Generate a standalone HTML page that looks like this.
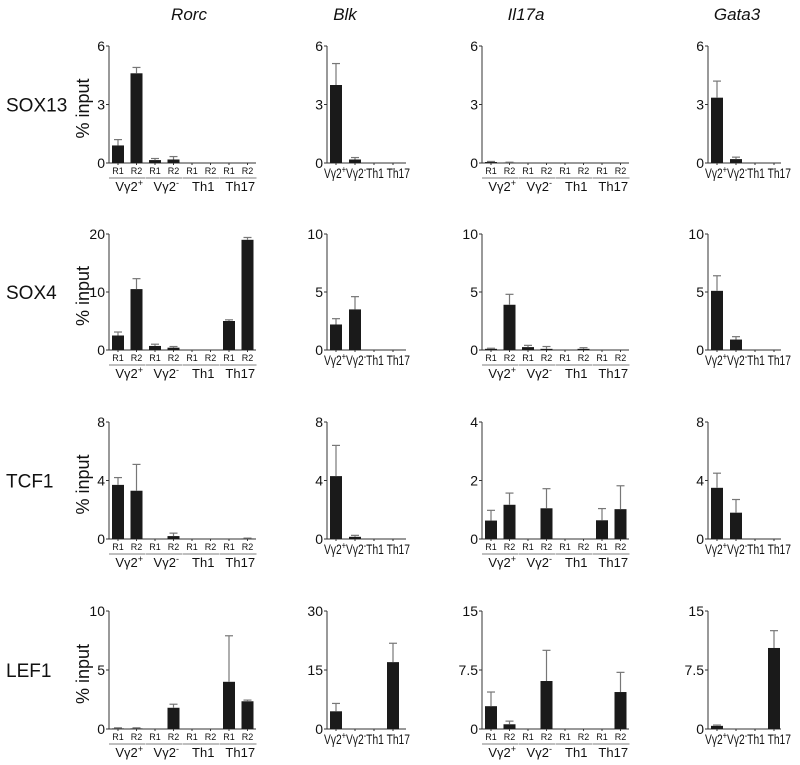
<!DOCTYPE html>
<html><head><meta charset="utf-8">
<style>
body{margin:0;background:#fff;}
svg{display:block;font-family:"Liberation Sans",sans-serif;}
</style></head>
<body>
<svg id="fig" width="800" height="765" viewBox="0 0 800 765"></svg>
<script>
// column genes and row factors
const genes = ["Rorc","Blk","Il17a","Gata3"];
const factors = ["SOX13","SOX4","TCF1","LEF1"];
const groups = ["Vγ2+","Vγ2-","Th1","Th17"];
// y-axis maxima per row/col
const yMax = [[6,6,6,6],[20,10,10,10],[8,8,4,8],[10,30,15,15]];
const yTickLabels = [
 [["0","3","6"],["0","3","6"],["0","3","6"],["0","3","6"]],
 [["0","10","20"],["0","5","10"],["0","5","10"],["0","5","10"]],
 [["0","4","8"],["0","4","8"],["0","2","4"],["0","4","8"]],
 [["0","5","10"],["0","15","30"],["0","7.5","15"],["0","7.5","15"]]
];
// values (means) and errors
const vals = [
 [[0.9,4.6,0.15,0.18,0,0,0,0],[4.0,0.18,0,0],[0.05,0.02,0,0,0,0,0,0],[3.35,0.2,0,0]],
 [[2.5,10.5,0.7,0.4,0,0,5,19],[2.2,3.5,0,0],[0.1,3.9,0.25,0.1,0,0.1,0,0],[5.1,0.9,0,0]],
 [[3.7,3.3,0,0.2,0,0,0,0.03],[4.3,0.15,0,0],[0.63,1.17,0,1.05,0,0,0.64,1.02],[3.5,1.8,0,0]],
 [[0.05,0.05,0,1.8,0,0,4,2.35],[4.5,0,0,17],[2.9,0.6,0,6.1,0,0,0,4.7],[0.4,0,0,10.3]]
];
const errs = [
 [[0.3,0.3,0.08,0.15,0,0,0,0],[1.1,0.1,0,0],[0.03,0.02,0,0,0,0,0,0],[0.85,0.1,0,0]],
 [[0.6,1.8,0.3,0.2,0,0,0.2,0.4],[0.5,1.1,0,0],[0.05,0.9,0.15,0.2,0,0.1,0,0],[1.3,0.25,0,0]],
 [[0.5,1.8,0,0.2,0,0,0,0.03],[2.1,0.1,0,0],[0.35,0.4,0,0.67,0,0,0.4,0.8],[1.0,0.9,0,0]],
 [[0.05,0.05,0,0.3,0,0,3.9,0.1],[2,0,0,4.8],[1.8,0.4,0,3.9,0,0,0,2.5],[0.1,0,0,2.2]]
];
const NS="http://www.w3.org/2000/svg";
const svg=document.getElementById('fig');
function mk(tag,attrs,parent){const e=document.createElementNS(NS,tag);for(const k in attrs)e.setAttribute(k,attrs[k]);(parent||svg).appendChild(e);return e;}
const colAxisX=[109,327,482,708];
const titleX=[189,345,526,737];
const rowTop=[46,234,422,611], rowZero=[163,350,539,729];
function grpLabel(g,x,y,size,parent){
  const t=mk('text',{x:x,y:y,'font-size':size,'text-anchor':'middle',fill:'#111'},parent);
  const base=g.replace(/[+-]$/,''); t.textContent=base;
  if(/[+-]$/.test(g)){const s=mk('tspan',{'font-size':size*0.7,dy:-size*0.4},t);s.textContent=g.slice(-1);}
  return t;
}
genes.forEach((g,c)=>{
  const t=mk('text',{x:titleX[c],y:20,'font-size':17,'font-style':'italic','text-anchor':'middle',fill:'#111'});
  
  
  t.textContent=g;
});
factors.forEach((f,r)=>{
  const mid=(rowTop[r]+rowZero[r])/2;
  const t=mk('text',{x:6,y:mid+7,'font-size':19,fill:'#111'});
  
  
  t.textContent=f;
  const yl=mk('text',{x:0,y:0,'font-size':18,'text-anchor':'middle',fill:'#111',transform:`translate(89,${mid+4}) rotate(-90)`});
  
  
  yl.textContent='% input';
  genes.forEach((g,c)=>{
    const grp=mk('g',{});
    
    
    const ax=colAxisX[c], top=rowTop[r], zero=rowZero[r];
    const v=vals[r][c], e=errs[r][c], n=v.length, wide=n===8;
    const step=wide?18.5:19, bw=12, x0=ax+3;
    const axEnd=wide?ax+147:ax+(c===1?79:73);
    const y=val=>zero-(val/yMax[r][c])*(zero-top);
    mk('line',{x1:ax,y1:top,x2:ax,y2:zero,stroke:'#333','stroke-width':1},grp);
    mk('line',{x1:ax,y1:zero,x2:axEnd,y2:zero,stroke:'#333','stroke-width':1},grp);
    yTickLabels[r][c].forEach((lab,i)=>{
      const val=i*yMax[r][c]/2, ty=y(val);
      mk('line',{x1:ax-3,y1:ty,x2:ax,y2:ty,stroke:'#333'},grp);
      const tl=mk('text',{x:ax-4,y:ty+5,'font-size':14,'text-anchor':'end',fill:'#111'},grp);
      
      
      tl.textContent=lab;
    });
    v.forEach((val,i)=>{
      const bx=x0+i*step;
      if(val>0){
        const b=mk('rect',{x:bx,y:y(val),width:bw,height:zero-y(val),fill:'#1a1a1a'},grp);
        
        
      }
      if(e[i]>0){
        const cx=bx+bw/2, ye=y(val+e[i]);
        mk('line',{x1:cx,y1:y(val),x2:cx,y2:ye,stroke:'#777','stroke-width':1.2},grp);
        mk('line',{x1:cx-4,y1:ye,x2:cx+4,y2:ye,stroke:'#777','stroke-width':1.2},grp);
      }
      mk('line',{x1:bx+bw/2,y1:zero,x2:bx+bw/2,y2:zero+2,stroke:'#333'},grp);
      if(wide){
        const rl=mk('text',{x:bx+bw/2,y:zero+11,'font-size':9,'text-anchor':'middle',fill:'#111'},grp);
        rl.textContent=i%2?'R2':'R1';
      }
    });
    if(wide){
      groups.forEach((gn,k)=>{
        const gx1=x0+2*k*step-3, gx2=x0+(2*k+1)*step+bw+3;
        mk('line',{x1:gx1,y1:zero+15,x2:gx2,y2:zero+15,stroke:'#555','stroke-width':0.8},grp);
        grpLabel(gn,(gx1+gx2)/2+2,zero+28,13,grp);
      });
    } else {
      const lbl=mk('text',{x:ax-3,y:zero+15,'font-size':14,fill:'#111',textLength:86,lengthAdjust:'spacingAndGlyphs'},grp);
      
      
      ['Vγ2','+','Vγ2','-','Th1',' Th17'].forEach((s,i)=>{
        const ts=mk('tspan',{},lbl);
        if(s==='+'||s==='-'){ts.setAttribute('font-size',10);ts.setAttribute('dy',-5);}
        else if(i===2||i===4){ts.setAttribute('dy',5);}
        ts.textContent=s;
      });
    }
  });
});
</script>
</body></html>
